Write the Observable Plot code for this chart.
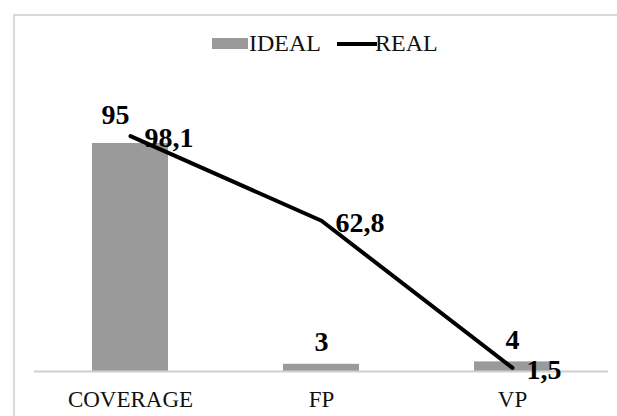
<!DOCTYPE html>
<html>
<head>
<meta charset="utf-8">
<script src="https://cdn.jsdelivr.net/npm/d3@7"></script>
<script src="https://cdn.jsdelivr.net/npm/@observablehq/plot@0.6"></script>
<style>
  html, body { margin: 0; padding: 0; background: #fff; }
  #wrap { position: relative; width: 617px; height: 416px; overflow: hidden; }
  #border { position: absolute; left: 13px; top: 14px; right: -5px; bottom: -5px;
            border-left: 2px solid #d9d9d9; border-top: 2px solid #d9d9d9; }
  #legend { position: absolute; left: 0; top: 28px; width: 617px; height: 30px;
            font-family: "Liberation Serif", serif; font-size: 24px; color: #111; }
  #legend .sw { position: absolute; }
  #legend .lbl { position: absolute; top: 0; line-height: 30px; }
  #chart { position: absolute; left: 0; top: 0; }
</style>
</head>
<body>
<div id="wrap">
  <div id="border"></div>
  <div id="chart"></div>
  <div id="legend">
    <div class="sw" style="left:212px; top:10px; width:36px; height:11px; background:#9a9a9a"></div>
    <div class="lbl" style="left:249px">IDEAL</div>
    <div class="sw" style="left:337px; top:14px; width:40px; height:4px; background:#000"></div>
    <div class="lbl" style="left:375px">REAL</div>
  </div>
</div>
<script>
const categories = ["COVERAGE", "FP", "VP"];
const ideal = [95, 3, 4];
const real = [98.1, 62.8, 1.5];
const idealLabels = ["95", "3", "4"];
const realLabels = ["98,1", "62,8", "1,5"];

const rows = categories.map((c, i) => ({cat: c, ideal: ideal[i], real: real[i], il: idealLabels[i], rl: realLabels[i]}));

const chart = Plot.plot({
  width: 617,
  height: 416,
  marginLeft: 34,
  marginRight: 9,
  marginTop: 131,
  marginBottom: 45,
  style: {fontFamily: "Liberation Serif, serif", color: "#111", background: "transparent"},
  x: {type: "band", domain: categories, paddingInner: 0.6, paddingOuter: 0.3, label: null},
  y: {domain: [0, 100], axis: null},
  marks: [
    Plot.barY(rows, {x: "cat", y: "ideal", fill: "#9a9a9a"}),
    Plot.ruleY([0], {stroke: "#d0d0d0", strokeWidth: 2}),
    Plot.lineY(rows, {x: "cat", y: "real", stroke: "#000", strokeWidth: 4}),
    Plot.text(rows.filter((d, i) => i > 0), {x: "cat", y: "ideal", text: "il", dy: -22, fontSize: 28, fontWeight: "bold", fill: "#000"}),
    Plot.text(rows.filter((d, i) => i === 0), {x: "cat", y: "ideal", text: "il", dx: -15, dy: -28, fontSize: 28, fontWeight: "bold", fill: "#000"}),
    Plot.text(rows, {x: "cat", y: "real", text: "rl", textAnchor: "start", dx: 14, dy: 2, fontSize: 28, fontWeight: "bold", fill: "#000"}),
    Plot.axisX({tickSize: 0, tickPadding: 19, fontSize: 23, label: null})
  ]
});
document.getElementById("chart").appendChild(chart);
</script>
</body>
</html>
